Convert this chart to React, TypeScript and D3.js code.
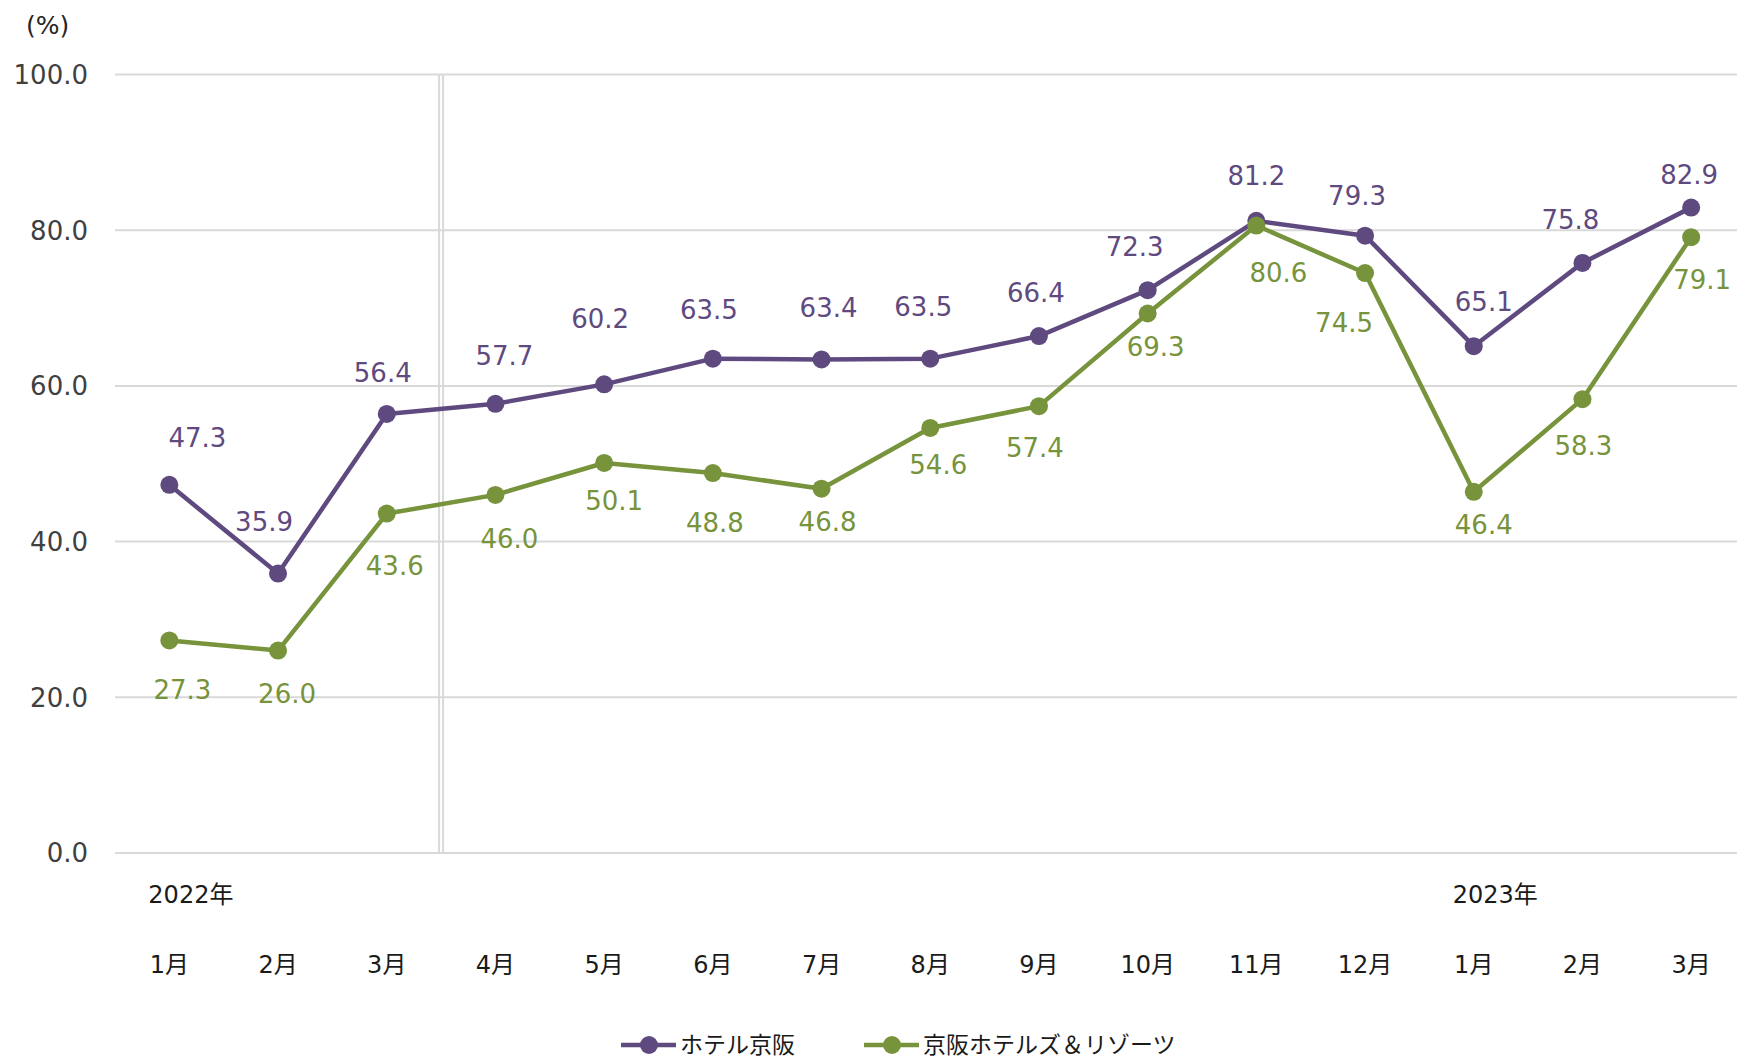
import React, { useEffect, useRef } from "react";
import * as d3 from "d3";

const months = ["1月", "2月", "3月", "4月", "5月", "6月", "7月", "8月", "9月", "10月", "11月", "12月", "1月", "2月", "3月"];
const yearLabels = [
  { index: 0, text: "2022年" },
  { index: 12, text: "2023年" },
];
const hotelKeihan = [47.3, 35.9, 56.4, 57.7, 60.2, 63.5, 63.4, 63.5, 66.4, 72.3, 81.2, 79.3, 65.1, 75.8, 82.9];
const keihanResorts = [27.3, 26.0, 43.6, 46.0, 50.1, 48.8, 46.8, 54.6, 57.4, 69.3, 80.6, 74.5, 46.4, 58.3, 79.1];
const yTicks = [0, 20, 40, 60, 80, 100];
const seriesNames = ["ホテル京阪", "京阪ホテルズ＆リゾーツ"];

// hand-placed data label nudges (px, relative to the marker), as in the source chart
const purpleNudge = [
  [28, -47], [-14, -52], [-4, -41], [9, -48], [-4, -66], [-4, -49], [7, -52], [-7, -52],
  [-3, -43], [-13, -44], [0, -45], [-8, -40], [10, -45], [-12, -43], [-2, -33],
];
const greenNudge = [
  [13, 49], [9, 43], [8, 52], [14, 44], [10, 38], [2, 50], [6, 33], [8, 37],
  [-4, 41], [8, 33], [22, 47], [-21, 50], [10, 33], [1, 47], [11, 42],
];

const PURPLE = "#5f4a80";
const GREEN = "#77933c";
const FONT = "'DejaVu Sans', 'Noto Sans CJK JP', sans-serif";

const Chart = () => {
  const ref = useRef<SVGSVGElement>(null);

  function draw() {
    const svg = d3.select(ref.current);
    svg.selectAll("*").remove();
    const width = 1737;
    const height = 1058;
    const marginLeft = 115;
    const step = 108.7;
    const yTop = 74.5;
    const yBottom = 853;

    const x = d3
      .scaleBand()
      .domain(months.map((_, i) => String(i)))
      .range([marginLeft, marginLeft + step * months.length]);
    const cx = (i: number) => (x(String(i)) as number) + x.bandwidth() / 2;

    const y = d3.scaleLinear().domain([0, 100]).range([yBottom, yTop]);

    svg.attr("width", width).attr("height", height).attr("viewBox", [0, 0, width, height]);

    // grid
    svg
      .append("g")
      .selectAll("line")
      .data(yTicks)
      .join("line")
      .attr("x1", marginLeft)
      .attr("x2", width)
      .attr("y1", (d) => y(d))
      .attr("y2", (d) => y(d))
      .attr("stroke", "#d9d9d9")
      .attr("stroke-width", 2);

    // fiscal year separator (double line between 3月 and 4月)
    const sep = x("3") as number;
    [-2, 2].forEach((o) => {
      svg
        .append("line")
        .attr("x1", sep + o)
        .attr("x2", sep + o)
        .attr("y1", y(100))
        .attr("y2", y(0))
        .attr("stroke", "#d9d9d9")
        .attr("stroke-width", 2);
    });

    // y tick labels
    svg
      .append("g")
      .selectAll("text")
      .data(yTicks)
      .join("text")
      .attr("x", 88)
      .attr("y", (d) => y(d))
      .attr("dy", "0.36em")
      .attr("text-anchor", "end")
      .attr("font-family", FONT)
      .attr("font-size", 26)
      .attr("fill", "#404040")
      .text((d) => d.toFixed(1));

    svg
      .append("text")
      .attr("x", 26)
      .attr("y", 25)
      .attr("dy", "0.36em")
      .attr("font-family", FONT)
      .attr("font-size", 25)
      .attr("fill", "#262626")
      .text("(%)");

    // x labels
    svg
      .append("g")
      .selectAll("text")
      .data(months)
      .join("text")
      .attr("x", (_, i) => cx(i))
      .attr("y", 964)
      .attr("dy", "0.36em")
      .attr("text-anchor", "middle")
      .attr("font-family", FONT)
      .attr("font-size", 24)
      .attr("fill", "#1a1a1a")
      .text((d) => d);

    svg
      .append("g")
      .selectAll("text")
      .data(yearLabels)
      .join("text")
      .attr("x", (d) => cx(d.index) - 21)
      .attr("y", 894)
      .attr("dy", "0.36em")
      .attr("font-family", FONT)
      .attr("font-size", 24)
      .attr("fill", "#1a1a1a")
      .text((d) => d.text);

    const line = d3
      .line<number>()
      .x((_, i) => cx(i))
      .y((d) => y(d));

    const series = [
      { values: hotelKeihan, color: PURPLE, nudge: purpleNudge },
      { values: keihanResorts, color: GREEN, nudge: greenNudge },
    ];

    series.forEach((s) => {
      const g = svg.append("g");
      g.append("path")
        .attr("d", line(s.values))
        .attr("fill", "none")
        .attr("stroke", s.color)
        .attr("stroke-width", 4.5)
        .attr("stroke-linejoin", "round");
      g.selectAll("circle")
        .data(s.values)
        .join("circle")
        .attr("cx", (_, i) => cx(i))
        .attr("cy", (d) => y(d))
        .attr("r", 9)
        .attr("fill", s.color);
      g.selectAll("text")
        .data(s.values)
        .join("text")
        .attr("x", (_, i) => cx(i) + s.nudge[i][0])
        .attr("y", (d, i) => y(d) + s.nudge[i][1])
        .attr("dy", "0.36em")
        .attr("text-anchor", "middle")
        .attr("font-family", FONT)
        .attr("font-size", 26)
        .attr("fill", s.color)
        .text((d) => d.toFixed(1));
    });

    // legend
    const legendX = [621, 864];
    seriesNames.forEach((name, i) => {
      const g = svg.append("g").attr("transform", `translate(${legendX[i]},1045)`);
      const color = i === 0 ? PURPLE : GREEN;
      g.append("line")
        .attr("x1", 0)
        .attr("x2", 55)
        .attr("stroke", color)
        .attr("stroke-width", 4.5);
      g.append("circle").attr("cx", 28).attr("r", 9).attr("fill", color);
      g.append("text")
        .attr("x", 59)
        .attr("dy", "0.36em")
        .attr("font-family", FONT)
        .attr("font-size", 23)
        .attr("fill", "#1a1a1a")
        .text(name);
    });
  }

  useEffect(() => {
    draw();
  }, []);

  return <svg ref={ref} style={{ position: "absolute", left: 0, top: 0 }} />;
};

export default function App() {
  return <Chart />;
}
